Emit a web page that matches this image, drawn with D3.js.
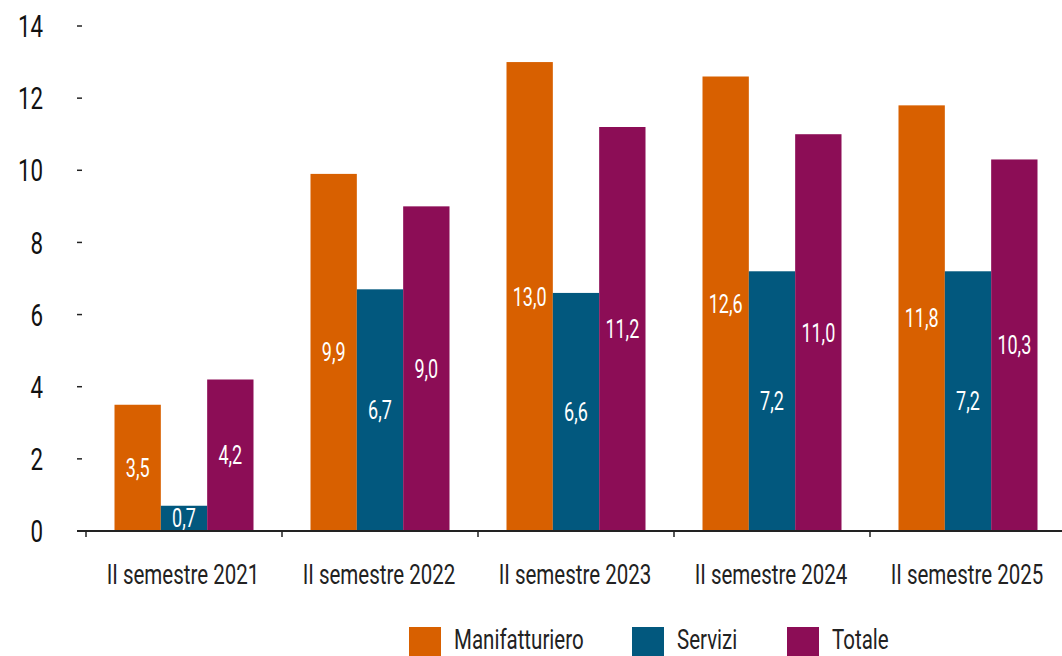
<!DOCTYPE html>
<html>
<head>
<meta charset="utf-8">
<script src="https://cdn.jsdelivr.net/npm/d3@7"></script>
<style>
  body { margin: 0; background: #fff; }
  svg { display: block; font-family: Roboto, "DejaVu Sans Condensed", sans-serif; }
  .y-axis text { font-size: 31px; fill: #111; }
  .x-axis text { font-size: 27px; fill: #222; }
  .bar-label { font-size: 25px; fill: #fff; }
  .legend-texts { font-size: 27px; fill: #222; }
</style>
</head>
<body>
<div id="svg-container"></div>
<script>
////////////////////////////  Data  ////////////////////////////////
const categories = ["II semestre 2021", "II semestre 2022", "II semestre 2023", "II semestre 2024", "II semestre 2025"];
const seriesNames = ["Manifatturiero", "Servizi", "Totale"];
const manifatturiero = [3.5, 9.9, 13.0, 12.6, 11.8];
const servizi = [0.7, 6.7, 6.6, 7.2, 7.2];
const totale = [4.2, 9.0, 11.2, 11.0, 10.3];
const yTicks = [0, 2, 4, 6, 8, 10, 12, 14];
const colors = ["#d86000", "#02587e", "#8c0d56"];

////////////////////////////  Init  ////////////////////////////////
const width = 1062;
const height = 656;
const margin = { top: 26, right: 0, bottom: 125, left: 86 };

const svg = d3.select("#svg-container").append("svg")
  .attr("width", width).attr("height", height);

const values = [manifatturiero, servizi, totale];
const data = categories.map((c, i) => ({
  cat: c,
  vals: seriesNames.map((s, j) => ({ series: s, value: values[j][i] }))
}));

// scale
const xScale = d3.scaleBand().domain(categories).range([margin.left, margin.left + 196 * 5]);
const xInner = d3.scaleBand().domain(seriesNames).range([0, 139]);
const yScale = d3.scaleLinear().domain([0, 14]).range([height - margin.bottom, margin.top]);
const colorScale = d3.scaleOrdinal().domain(seriesNames).range(colors);
const fmt = d3.formatLocale({ decimal: ",", thousands: ".", grouping: [3], currency: ["", "€"] }).format(".1f");

// narrow text helper: the original font is a condensed one,
// so text is drawn at (0,0) inside a horizontally squeezed group
function squeezed(sel, x, y, sx) {
  return sel.append("g")
    .attr("transform", (d, i) => `translate(${x(d, i)},${y(d, i)}) scale(${sx},1)`)
    .append("text");
}

// y axis: dashes only, no line
const yAxis = svg.append("g").attr("class", "y-axis");
yAxis.selectAll("line").data(yTicks).enter().append("line")
  .attr("x1", 77).attr("x2", 82)
  .attr("y1", (d) => yScale(d)).attr("y2", (d) => yScale(d))
  .attr("stroke", "#222").attr("stroke-width", 1.5);
squeezed(yAxis.selectAll(".lbl").data(yTicks).enter(), () => 43, (d) => yScale(d), 0.72)
  .attr("dy", "0.36em").attr("text-anchor", "end")
  .text((d) => d);

// bars
const groups = svg.selectAll(".group").data(data).enter().append("g")
  .attr("transform", (d) => `translate(${xScale(d.cat) + (xScale.bandwidth() - 139) / 2},0)`);

groups.selectAll("rect").data((d) => d.vals).enter().append("rect")
  .attr("x", (d) => xInner(d.series))
  .attr("y", (d) => yScale(d.value))
  .attr("width", xInner.bandwidth())
  .attr("height", (d) => yScale(0) - yScale(d.value))
  .attr("fill", (d) => colorScale(d.series));

squeezed(groups.selectAll(".lbl").data((d) => d.vals).enter(),
    (d) => xInner(d.series) + xInner.bandwidth() / 2, (d) => yScale(d.value / 2), 0.72)
  .attr("class", "bar-label")
  .attr("dy", "0.36em").attr("text-anchor", "middle")
  .text((d) => fmt(d.value));

// x axis
const xAxis = svg.append("g").attr("class", "x-axis");
xAxis.append("line")
  .attr("x1", 77).attr("x2", width)
  .attr("y1", yScale(0)).attr("y2", yScale(0))
  .attr("stroke", "#222").attr("stroke-width", 2);
xAxis.selectAll(".tick").data(categories).enter().append("line")
  .attr("x1", (d) => xScale(d)).attr("x2", (d) => xScale(d))
  .attr("y1", yScale(0)).attr("y2", yScale(0) + 6)
  .attr("stroke", "#222").attr("stroke-width", 1.5);
squeezed(xAxis.selectAll(".lbl").data(categories).enter(),
    (d) => xScale(d) + xScale.bandwidth() / 2 - 1, () => 584, 0.76)
  .attr("text-anchor", "middle")
  .text((d) => d);

// legend
const legendX = [409, 632, 787];
const legend = svg.selectAll(".legend").data(seriesNames).enter().append("g")
  .attr("transform", (d, i) => `translate(${legendX[i]},627)`);
legend.append("rect").attr("width", 32).attr("height", 32).attr("fill", (d) => colorScale(d));
squeezed(legend, () => 45, () => 22, 0.76)
  .attr("class", "legend-texts")
  .text((d) => d);
</script>
</body>
</html>
